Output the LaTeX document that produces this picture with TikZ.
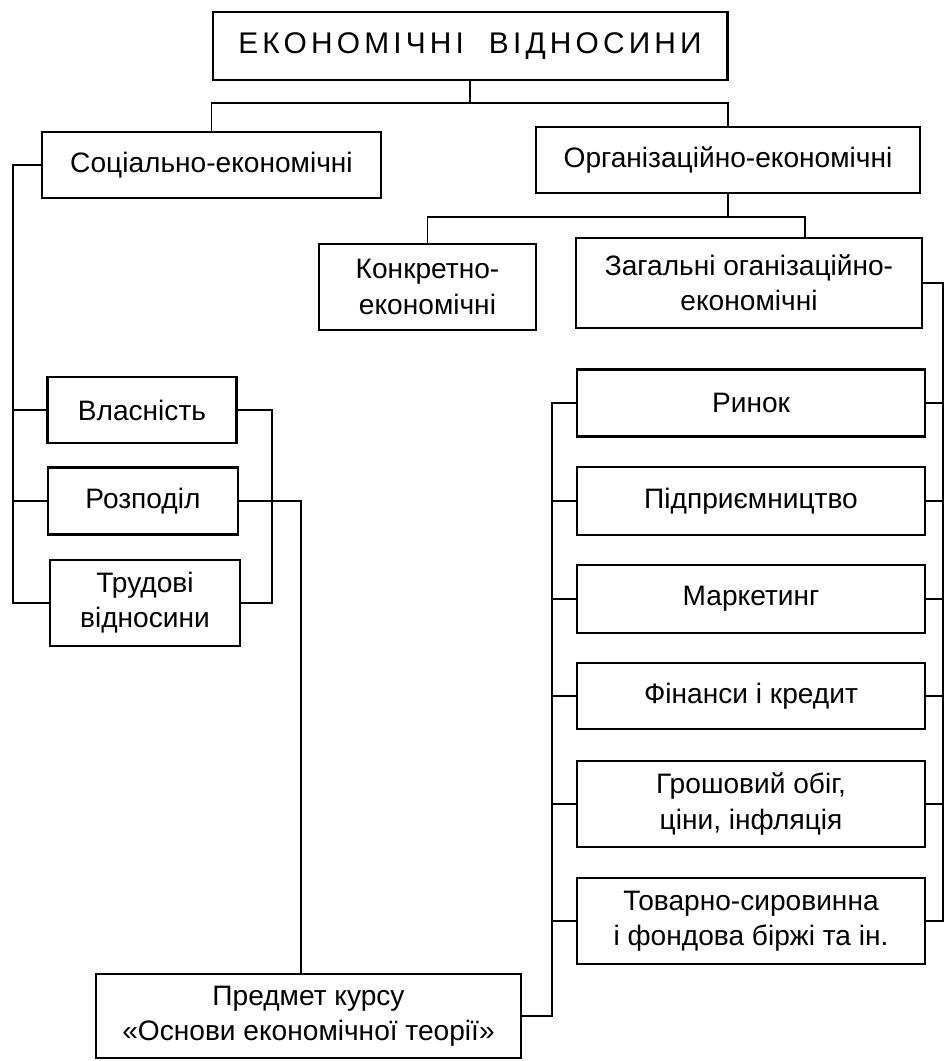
\documentclass[tikz,border=0pt]{standalone}
\usepackage{fontspec}
\setmainfont{Liberation Sans}
\usetikzlibrary{calc,positioning}

\begin{document}
\begin{tikzpicture}[x=0.02cm,y=-0.02cm,font=\fontsize{16}{20}\selectfont,
  box/.style={draw,line width=1.2pt,align=center,inner sep=0pt},
  link/.style={line width=0.9pt}]
  \useasboundingbox (0,0) rectangle (945,1061);
  % upper levels
  \node[box,minimum width=10.3cm,minimum height=1.36cm,font=\fontsize{17}{20}\selectfont\addfontfeature{LetterSpace=14}] (title) at (470,46) {ЕКОНОМІЧНІ\ \ ВІДНОСИНИ};
  \node[box,minimum width=6.78cm,minimum height=1.32cm] (soc) at (211.5,165) {Соціально-економічні};
  \node[box,minimum width=7.68cm,minimum height=1.32cm] (org) at (728,160) {Організаційно-економічні};
  \node[box,minimum width=4.34cm,minimum height=1.72cm] (konkr) at (427.5,287) {Конкретно-\\економічні};
  \node[box,minimum width=6.92cm,minimum height=1.80cm] (zag) at (749,283) {Загальні оганізаційно-\\економічні};
  % left column
  \node[box,minimum width=3.78cm,minimum height=1.32cm] (vlas) at (142,410) {Власність};
  \node[box,minimum width=3.8cm,minimum height=1.34cm] (rozp) at (143,501) {Розподіл};
  \node[box,minimum width=3.8cm,minimum height=1.72cm] (trud) at (145,603) {Трудові\\відносини};
  % right column
  \node[box,minimum width=6.96cm,minimum height=1.34cm] (rynok) at (751,403) {Ринок};
  \node[box,minimum width=6.96cm,minimum height=1.36cm] (pidpr) at (751,501) {Підприємництво};
  \node[box,minimum width=6.96cm,minimum height=1.36cm] (market) at (751,599) {Маркетинг};
  \node[box,minimum width=6.96cm,minimum height=1.32cm] (fin) at (751,696) {Фінанси і кредит};
  \node[box,minimum width=6.96cm,minimum height=1.72cm] (grosh) at (751,804) {Грошовий обіг,\\ціни, інфляція};
  \node[box,minimum width=6.96cm,minimum height=1.72cm] (tovar) at (751,921) {Товарно-сировинна\\і фондова біржі та ін.};
  \node[box,minimum width=8.5cm,minimum height=1.68cm] (predmet) at (308.5,1016) {Предмет курсу\\«Основи економічної теорії»};

  % bus lines
  \coordinate (b1) at (0,103);
  \coordinate (b2) at (805,217);
  \coordinate (lbus) at (13,0);
  \coordinate (br) at (272,0);
  \coordinate (pd) at (301,0);
  \coordinate (mbus) at (552,0);
  \coordinate (rbus) at (943,0);

  \draw[link] (title.south) -- (title.south |- b1);
  \draw[link] (soc.north) |- (org.north |- b1) -- (org.north);
  \draw[link] (org.south) -- (org.south |- b2);
  \draw[link] (konkr.north) |- (b2) -- (b2 |- zag.north);

  \draw[link] (soc.west) -| (lbus |- trud.west) -- (trud.west);
  \foreach \n in {vlas,rozp}
    \draw[link] (\n.west) -- (lbus |- \n.west);
  \draw[link] (vlas.east) -| (br |- trud.east) -- (trud.east);
  \draw[link] (rozp.east) -| (pd |- predmet.north);

  \draw[link] (predmet.east) -| (mbus |- rynok.west) -- (rynok.west);
  \draw[link] (zag.east) -| (rbus |- tovar.east) -- (tovar.east);
  \foreach \n in {pidpr,market,fin,grosh,tovar}
    \draw[link] (\n.west) -- (mbus |- \n.west);
  \foreach \n in {rynok,pidpr,market,fin,grosh}
    \draw[link] (\n.east) -- (rbus |- \n.east);
\end{tikzpicture}
\end{document}
